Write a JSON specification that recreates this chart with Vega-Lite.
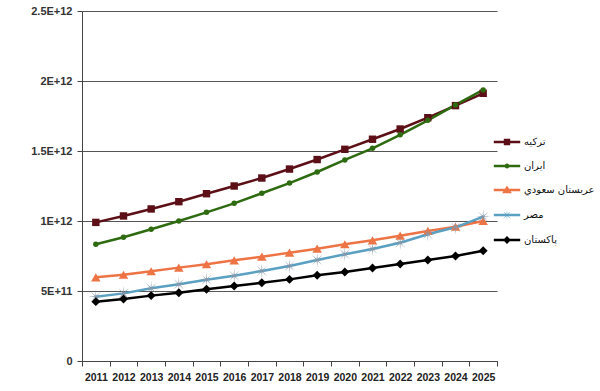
{
  "$schema": "https://vega.github.io/schema/vega-lite/v6.json",
  "width": 415,
  "height": 350,
  "padding": {"left": 30, "top": 5, "right": 5, "bottom": 5},
  "background": "white",
  "config": {
    "view": {"stroke": null},
    "font": "Liberation Sans"
  },
  "data": {
    "values": [
      {"year": "2011", "country": "تركيه", "value": 0.99e12},
      {"year": "2012", "country": "تركيه", "value": 1.036e12},
      {"year": "2013", "country": "تركيه", "value": 1.086e12},
      {"year": "2014", "country": "تركيه", "value": 1.138e12},
      {"year": "2015", "country": "تركيه", "value": 1.195e12},
      {"year": "2016", "country": "تركيه", "value": 1.25e12},
      {"year": "2017", "country": "تركيه", "value": 1.307e12},
      {"year": "2018", "country": "تركيه", "value": 1.371e12},
      {"year": "2019", "country": "تركيه", "value": 1.439e12},
      {"year": "2020", "country": "تركيه", "value": 1.512e12},
      {"year": "2021", "country": "تركيه", "value": 1.584e12},
      {"year": "2022", "country": "تركيه", "value": 1.657e12},
      {"year": "2023", "country": "تركيه", "value": 1.738e12},
      {"year": "2024", "country": "تركيه", "value": 1.824e12},
      {"year": "2025", "country": "تركيه", "value": 1.912e12},
      {"year": "2011", "country": "ايران", "value": 0.834e12},
      {"year": "2012", "country": "ايران", "value": 0.884e12},
      {"year": "2013", "country": "ايران", "value": 0.941e12},
      {"year": "2014", "country": "ايران", "value": 1.0e12},
      {"year": "2015", "country": "ايران", "value": 1.062e12},
      {"year": "2016", "country": "ايران", "value": 1.126e12},
      {"year": "2017", "country": "ايران", "value": 1.198e12},
      {"year": "2018", "country": "ايران", "value": 1.271e12},
      {"year": "2019", "country": "ايران", "value": 1.35e12},
      {"year": "2020", "country": "ايران", "value": 1.436e12},
      {"year": "2021", "country": "ايران", "value": 1.519e12},
      {"year": "2022", "country": "ايران", "value": 1.616e12},
      {"year": "2023", "country": "ايران", "value": 1.719e12},
      {"year": "2024", "country": "ايران", "value": 1.829e12},
      {"year": "2025", "country": "ايران", "value": 1.936e12},
      {"year": "2011", "country": "عربستان سعودي", "value": 0.598e12},
      {"year": "2012", "country": "عربستان سعودي", "value": 0.616e12},
      {"year": "2013", "country": "عربستان سعودي", "value": 0.641e12},
      {"year": "2014", "country": "عربستان سعودي", "value": 0.667e12},
      {"year": "2015", "country": "عربستان سعودي", "value": 0.691e12},
      {"year": "2016", "country": "عربستان سعودي", "value": 0.719e12},
      {"year": "2017", "country": "عربستان سعودي", "value": 0.745e12},
      {"year": "2018", "country": "عربستان سعودي", "value": 0.774e12},
      {"year": "2019", "country": "عربستان سعودي", "value": 0.802e12},
      {"year": "2020", "country": "عربستان سعودي", "value": 0.834e12},
      {"year": "2021", "country": "عربستان سعودي", "value": 0.862e12},
      {"year": "2022", "country": "عربستان سعودي", "value": 0.895e12},
      {"year": "2023", "country": "عربستان سعودي", "value": 0.929e12},
      {"year": "2024", "country": "عربستان سعودي", "value": 0.959e12},
      {"year": "2025", "country": "عربستان سعودي", "value": 1.0e12},
      {"year": "2011", "country": "مصر", "value": 0.459e12},
      {"year": "2012", "country": "مصر", "value": 0.483e12},
      {"year": "2013", "country": "مصر", "value": 0.519e12},
      {"year": "2014", "country": "مصر", "value": 0.548e12},
      {"year": "2015", "country": "مصر", "value": 0.581e12},
      {"year": "2016", "country": "مصر", "value": 0.609e12},
      {"year": "2017", "country": "مصر", "value": 0.643e12},
      {"year": "2018", "country": "مصر", "value": 0.679e12},
      {"year": "2019", "country": "مصر", "value": 0.721e12},
      {"year": "2020", "country": "مصر", "value": 0.762e12},
      {"year": "2021", "country": "مصر", "value": 0.8e12},
      {"year": "2022", "country": "مصر", "value": 0.845e12},
      {"year": "2023", "country": "مصر", "value": 0.905e12},
      {"year": "2024", "country": "مصر", "value": 0.955e12},
      {"year": "2025", "country": "مصر", "value": 1.031e12},
      {"year": "2011", "country": "پاكستان", "value": 0.424e12},
      {"year": "2012", "country": "پاكستان", "value": 0.443e12},
      {"year": "2013", "country": "پاكستان", "value": 0.467e12},
      {"year": "2014", "country": "پاكستان", "value": 0.488e12},
      {"year": "2015", "country": "پاكستان", "value": 0.512e12},
      {"year": "2016", "country": "پاكستان", "value": 0.536e12},
      {"year": "2017", "country": "پاكستان", "value": 0.559e12},
      {"year": "2018", "country": "پاكستان", "value": 0.583e12},
      {"year": "2019", "country": "پاكستان", "value": 0.612e12},
      {"year": "2020", "country": "پاكستان", "value": 0.636e12},
      {"year": "2021", "country": "پاكستان", "value": 0.664e12},
      {"year": "2022", "country": "پاكستان", "value": 0.693e12},
      {"year": "2023", "country": "پاكستان", "value": 0.721e12},
      {"year": "2024", "country": "پاكستان", "value": 0.75e12},
      {"year": "2025", "country": "پاكستان", "value": 0.788e12}
    ]
  },
  "encoding": {
    "x": {
      "field": "year",
      "type": "ordinal",
      "scale": {"type": "band", "paddingInner": 0, "paddingOuter": 0},
      "axis": {
        "title": null,
        "labelAngle": 0,
        "tickBand": "extent",
        "domainColor": "#444444",
        "tickColor": "#444444",
        "tickSize": 5,
        "labelFont": "Liberation Sans",
        "labelFontSize": 10.5,
        "labelFontWeight": "bold",
        "labelColor": "#222222",
        "labelPadding": 6,
        "labelOverlap": false
      }
    },
    "y": {
      "field": "value",
      "type": "quantitative",
      "scale": {"domain": [0, 2500000000000], "nice": false},
      "axis": {
        "title": null,
        "values": [0, 500000000000, 1000000000000, 1500000000000, 2000000000000, 2500000000000],
        "labelExpr": "datum.value == 0 ? '0' : replace(format(datum.value, '.1~e'), 'e', 'E')",
        "gridColor": "#555555",
        "gridWidth": 1,
        "domainColor": "#444444",
        "tickColor": "#444444",
        "tickSize": 5,
        "labelFont": "Liberation Sans",
        "labelFontSize": 11,
        "labelFontWeight": "bold",
        "labelColor": "#333333",
        "labelPadding": 5
      }
    }
  },
  "resolve": {
    "scale": {"color": "independent"},
    "legend": {"color": "independent", "shape": "independent", "size": "independent"}
  },
  "layer": [
    {
      "mark": {"type": "line", "strokeWidth": 2.5},
      "encoding": {
        "color": {
          "field": "country",
          "type": "nominal",
          "scale": {
            "domain": ["تركيه", "ايران", "عربستان سعودي", "مصر", "پاكستان"],
            "range": ["#5c0f16", "#2e6b10", "#ee7445", "#5aa0c2", "#000000"]
          },
          "legend": {
            "title": null,
            "orient": "none",
            "legendX": 420,
            "legendY": 126,
            "rowPadding": 14,
            "labelFont": "DejaVu Sans",
            "labelFontSize": 10,
            "labelColor": "#111111",
            "labelOffset": 12,
            "symbolSize": 64,
            "symbolStrokeWidth": 0,
            "encode": {
              "symbols": {
                "update": {
                  "fill": {"signal": "datum.value == 'تركيه' ? '#5c0f16' : datum.value == 'ايران' ? '#2e6b10' : datum.value == 'عربستان سعودي' ? '#ee7445' : datum.value == 'مصر' ? '#5aa0c2' : '#000000'"},
                  "strokeWidth": {"value": 0},
                  "shape": {"signal": "(datum.value == 'تركيه' ? 'M-0.8,-0.8L0.8,-0.8L0.8,0.8L-0.8,0.8Z' : datum.value == 'ايران' ? 'M-0.6,0A0.6,0.6 0 1,1 0.6,0A0.6,0.6 0 1,1 -0.6,0Z' : datum.value == 'عربستان سعودي' ? 'M0,-1.1L1.2,0.8L-1.2,0.8Z' : datum.value == 'مصر' ? 'M1.3,0L0.2,0.08L0.92,0.92L0.08,0.2L0,1.3L-0.08,0.2L-0.92,0.92L-0.2,0.08L-1.3,0L-0.2,-0.08L-0.92,-0.92L-0.08,-0.2L0,-1.3L0.08,-0.2L0.92,-0.92L0.2,-0.08Z' : 'M0,-1L1,0L0,1L-1,0Z') + 'M-3.3,-0.3L3.3,-0.3L3.3,0.3L-3.3,0.3Z'"}
                }
              }
            }
          }
        }
      }
    },
    {
      "mark": {"type": "point", "filled": true, "opacity": 1},
      "encoding": {
        "color": {
          "field": "country",
          "type": "nominal",
          "scale": {
            "domain": ["تركيه", "ايران", "عربستان سعودي", "مصر", "پاكستان"],
            "range": ["#5c0f16", "#2e6b10", "#ee7445", "#8497a8", "#000000"]
          },
          "legend": null
        },
        "shape": {
          "field": "country",
          "type": "nominal",
          "scale": {
            "domain": ["تركيه", "ايران", "عربستان سعودي", "مصر", "پاكستان"],
            "range": ["square", "circle", "triangle-up", "M1.3,0L0.18,0.075L0.92,0.92L0.075,0.18L0,1.3L-0.075,0.18L-0.92,0.92L-0.18,0.075L-1.3,0L-0.18,-0.075L-0.92,-0.92L-0.075,-0.18L0,-1.3L0.075,-0.18L0.92,-0.92L0.18,-0.075Z", "diamond"]
          },
          "legend": null
        },
        "size": {
          "field": "country",
          "type": "nominal",
          "scale": {
            "type": "ordinal",
            "domain": ["تركيه", "ايران", "عربستان سعودي", "مصر", "پاكستان"],
            "range": [55, 30, 90, 130, 80]
          },
          "legend": null
        }
      }
    }
  ]
}
